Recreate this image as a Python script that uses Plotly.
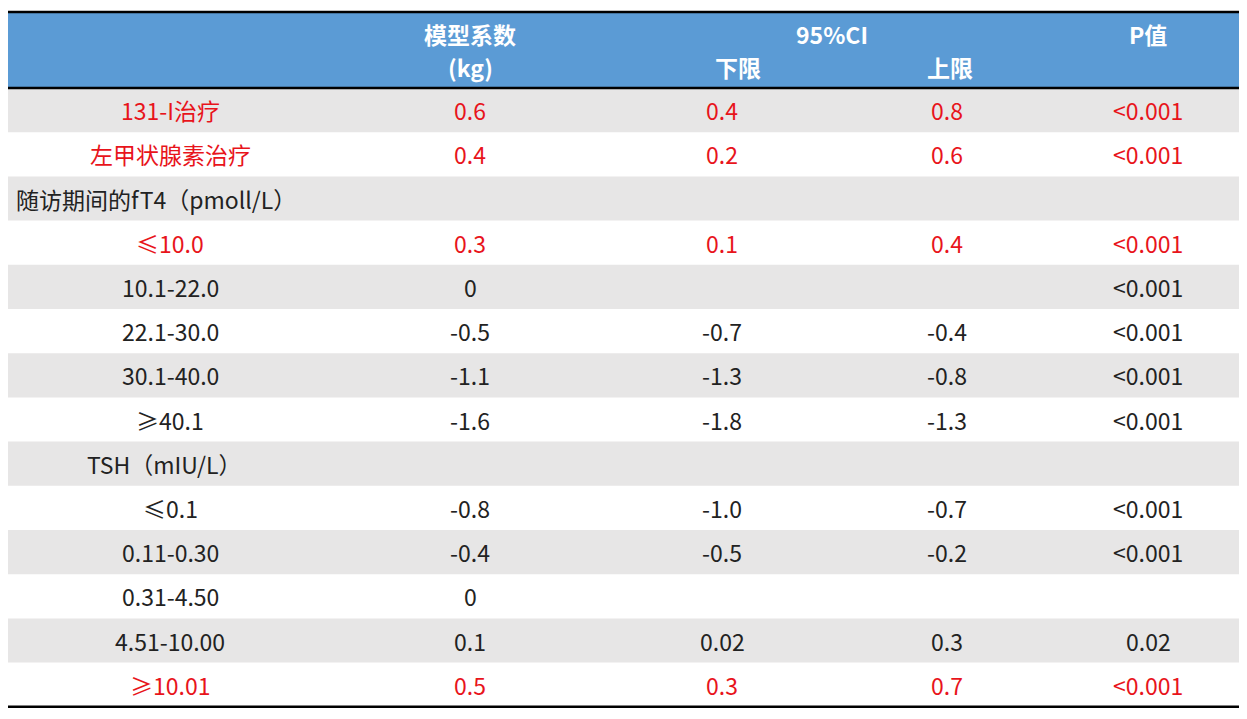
import plotly.graph_objects as go

labels = ["131-I治疗", "左甲状腺素治疗", "随访期间的fT4（pmoll/L）", "≤10.0", "10.1-22.0", "22.1-30.0",
          "30.1-40.0", "≥40.1", "TSH（mIU/L）", "≤0.1", "0.11-0.30", "0.31-4.50", "4.51-10.00", "≥10.01"]
coef = ["0.6", "0.4", "", "0.3", "0", "-0.5", "-1.1", "-1.6", "", "-0.8", "-0.4", "0", "0.1", "0.5"]
lower = ["0.4", "0.2", "", "0.1", "", "-0.7", "-1.3", "-1.8", "", "-1.0", "-0.5", "", "0.02", "0.3"]
upper = ["0.8", "0.6", "", "0.4", "", "-0.4", "-0.8", "-1.3", "", "-0.7", "-0.2", "", "0.3", "0.7"]
pval = ["<0.001", "<0.001", "", "<0.001", "<0.001", "<0.001", "<0.001", "<0.001", "", "<0.001", "<0.001", "", "0.02", "<0.001"]
red_rows = [0, 1, 3, 13]

W, H = 1247, 719
OFF = 8
top, head_bot, row_h = 12, 88, 44.2
col_x = [None, 470, 722, 947, 1148]
label_x = {2: (14, "left"), 8: (85, "left")}
RED = "#e8141b"
FONT = "Noto Sans CJK SC"
FS = 23

fig = go.Figure()
shapes, ann = [], []
shapes.append(dict(type="rect", x0=6, x1=1241, y0=top, y1=head_bot, fillcolor="#5b9bd5", line_width=0, layer="below"))
for i in range(len(labels)):
    y0 = head_bot + i * row_h
    if i % 2 == 0:
        shapes.append(dict(type="rect", x0=6, x1=1241, y0=y0, y1=y0 + row_h, fillcolor="#e7e6e6", line_width=0, layer="below"))
    yc = y0 + row_h / 2
    col = RED if i in red_rows else "#222222"
    lx, la = label_x.get(i, (170, "center"))
    ann.append(dict(x=lx, y=yc, text=labels[i], xanchor=la, showarrow=False, font=dict(size=FS, color=col, family=FONT)))
    for v, x in zip([coef[i], lower[i], upper[i], pval[i]], col_x[1:]):
        if v:
            ann.append(dict(x=x, y=yc, text=v, showarrow=False, font=dict(size=FS, color=col, family=FONT)))
bot = head_bot + len(labels) * row_h
for y in [top, head_bot, bot]:
    shapes.append(dict(type="line", x0=6, x1=1241, y0=y, y1=y, line=dict(color="black", width=2.5)))
hdr = dict(showarrow=False, font=dict(size=FS, color="white", family=FONT))
for x, y, t in [(470, 34, "<b>模型系数</b>"), (470, 67, "<b>(kg)</b>"), (832, 34, "<b>95%CI</b>"),
                (738, 67, "<b>下限</b>"), (950, 67, "<b>上限</b>"), (1148, 34, "<b>P值</b>")]:
    ann.append(dict(x=x, y=y, text=t, **hdr))

fig.update_layout(width=W, height=H, margin=dict(l=0, r=0, t=0, b=0), plot_bgcolor="white", paper_bgcolor="white",
                  shapes=shapes, annotations=ann,
                  xaxis=dict(range=[OFF, W + OFF], visible=False, fixedrange=True),
                  yaxis=dict(range=[H + OFF, OFF], visible=False, fixedrange=True))
fig.write_html("out.html")
